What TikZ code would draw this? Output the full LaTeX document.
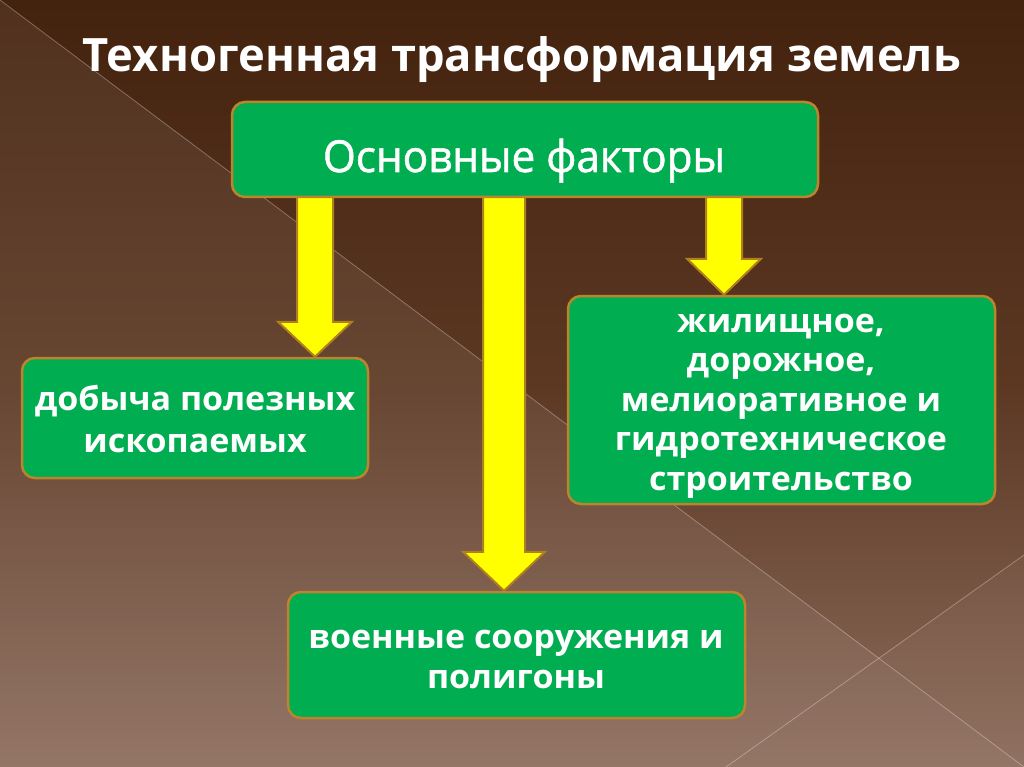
\documentclass[tikz,border=0pt]{standalone}
\usepackage{fontspec}
\setmainfont{Open Sans}
\newfontfamily\titlefont[FakeStretch=0.985]{Open Sans}
\newfontfamily\headfont[FakeStretch=0.96,FakeBold=1.2]{Open Sans}
\newfontfamily\boxfont[FakeStretch=1.03]{Open Sans}
\usetikzlibrary{calc}
\definecolor{bgtop}{HTML}{43220E}
\definecolor{bgmid}{HTML}{5C3823}
\definecolor{bgbot}{HTML}{8C6C5C}
\definecolor{boxgreen}{HTML}{00AD50}
\definecolor{boxedge}{HTML}{BC842C}
\definecolor{arrfill}{HTML}{FFFF00}
\definecolor{arredge}{HTML}{B0801E}
\pgfdeclarelayer{bg}
\pgfdeclarelayer{arr}
\pgfsetlayers{bg,arr,main}
\newcommand\yarr[6]{% from, to, x-coordinate, shaft half width, head half width, head length
  \draw[yarrow]
    ($(#1.south -| #3)+(-#4,-2)$) --
    ($(#2.north -| #3)+(-#4,-#6)$) --
    ($(#2.north -| #3)+(-#5,-#6)$) --
    (#2.north -| #3) --
    ($(#2.north -| #3)+(#5,-#6)$) --
    ($(#2.north -| #3)+(#4,-#6)$) --
    ($(#1.south -| #3)+(#4,-2)$) -- cycle;}
\begin{document}
\begin{tikzpicture}[x=1pt,y=-1pt,
  box/.style={draw=boxedge, line width=2.5pt, fill=boxgreen, rounded corners=13pt,
    inner sep=0pt},
  boxtext/.style={text=white, align=center, inner sep=0pt, anchor=base,
    font=\boxfont\bfseries\fontsize{33}{#1}\selectfont},
  boxtext/.default=41,
  yarrow/.style={draw=arredge, line width=2pt, fill=arrfill, line join=miter},
  bgline/.style={draw=white, opacity=0.3, line width=0.8pt}]
\useasboundingbox (0,0) rectangle (1024,767);
\begin{pgfonlayer}{bg}
  \shade[top color=bgtop, bottom color=bgbot, middle color=bgmid] (0,0) rectangle (1024,767);
  \fill[white, opacity=0.07] (0,0) -- (1024,767) -- (0,767) -- cycle;
  \fill[white, opacity=0.04] (879,658) -- (1024,555) -- (1024,767) -- cycle;
  \draw[bgline] (0,0) -- (1024,767);
  \draw[bgline] (1024,555) -- (726,767);
\end{pgfonlayer}

\node[text=white, font=\titlefont\bfseries\fontsize{46}{50}\selectfont, anchor=base]
  (title) at (522,72) {Техногенная трансформация земель};

\node[box, minimum width=586, minimum height=95] (top) at (525,149.5) {};
\node[box, minimum width=346, minimum height=120] (lbox) at (195,418) {};
\node[box, minimum width=427, minimum height=208] (rbox) at (781.5,400) {};
\node[box, minimum width=457, minimum height=126] (bbox) at (516.5,655) {};

\node[text=white, inner sep=0pt, anchor=base, font=\headfont\fontsize{44}{50}\selectfont]
  (toptext) at (524,172) {Основные факторы};
\node[boxtext=42] (ltext) at (195,452) {добыча полезных\\ископаемых};
\node[boxtext=39.5] (rtext) at (781,490)
  {жилищное,\\дорожное,\\мелиоративное и\\гидротехническое\\строительство};
\node[boxtext=40] (btext) at (516,688) {военные сооружения и\\полигоны};

\coordinate (xl) at (315,0);
\coordinate (xm) at (504,0);
\coordinate (xr) at (724,0);
\begin{pgfonlayer}{arr}
  \yarr{top}{lbox}{xl}{18}{37}{35}
  \yarr{top}{bbox}{xm}{21}{41}{39}
  \yarr{top}{rbox}{xr}{18}{37}{36}
\end{pgfonlayer}
\end{tikzpicture}
\end{document}
